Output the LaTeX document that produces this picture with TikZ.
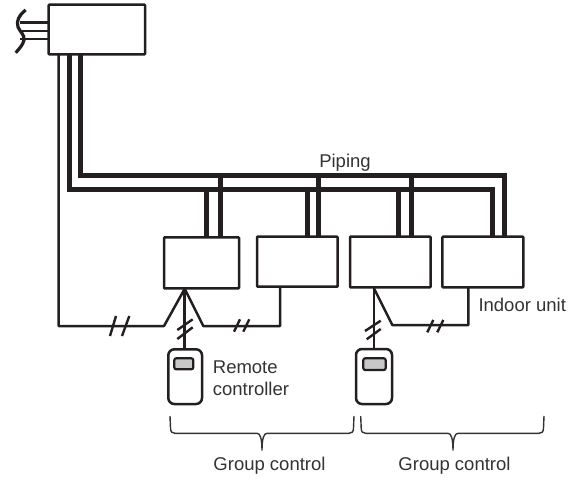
\documentclass[tikz,border=0pt]{standalone}
\usepackage{fontspec}
\setmainfont{Liberation Sans}
\definecolor{ink}{HTML}{231F20}
\definecolor{txt}{HTML}{333333}
\definecolor{win}{HTML}{C8C8C8}
\tikzset{
  unitbox/.style={draw=ink,line width=2.5pt,inner sep=0pt,outer sep=0pt,rounded corners=0.8pt,anchor=north west,fill=white},
  remotebox/.style={draw=ink,line width=2.5pt,inner sep=0pt,outer sep=0pt,rounded corners=6pt,anchor=north west,fill=white},
  windowbox/.style={draw=ink,line width=2.2pt,fill=win,inner sep=0pt,outer sep=0pt,rounded corners=2pt,anchor=north west},
  pipeline/.style={draw=ink,line width=5.3pt,line join=miter},
  wire/.style={draw=ink,line width=2.5pt,line join=round},
  tick/.style={draw=ink,line width=2.4pt},
  bracket/.style={draw=txt,line width=1.4pt},
  lab/.style={text=txt,inner sep=0pt,font=\fontsize{18.5}{22}\selectfont}
}
\begin{document}
\begin{tikzpicture}[x=1pt,y=-1pt]
\useasboundingbox (0,0) rectangle (579,480);
% nodes
\node[unitbox,minimum width=96.5pt,minimum height=49.6pt] (out) at (48.6,4.7) {};
\node[unitbox,minimum width=75pt,minimum height=51pt] (b1) at (164,237.3) {};
\node[unitbox,minimum width=80.7pt,minimum height=50pt] (b2) at (257,236.7) {};
\node[unitbox,minimum width=80.7pt,minimum height=50.6pt] (b3) at (350,236.7) {};
\node[unitbox,minimum width=81pt,minimum height=50.6pt] (b4) at (442.3,236.7) {};
\node[remotebox,minimum width=33.7pt,minimum height=54.7pt] (r1) at (168.3,349.3) {};
\node[remotebox,minimum width=36pt,minimum height=55pt] (r2) at (356,349) {};
\node[windowbox,minimum width=19pt,minimum height=11pt] (w1) at (174.3,358.3) {};
\node[windowbox,minimum width=22.4pt,minimum height=11.7pt] (w2) at (363.3,358.3) {};
% free ends
\coordinate (a1) at (184.7,288.8);
\coordinate (a3) at (374,288.3);
% supply stubs and break curve
\foreach \yy in {22.7,31,39}{\draw[wire] (out.west |- 0,\yy) -- (20,\yy);}
\draw[ink,line width=3.2pt] (25.7,10) .. controls (19,15) and (16,21) .. (18,27) .. controls (20,32) and (25,35) .. (24,40) .. controls (23,45) and (19,49) .. (15.7,52.7);
% pipes
\draw[pipeline] (80.3,0 |- out.south) -- (80.3,175.7) -- (504.3,175.7) -- (504.3,0 |- b4.north);
\draw[pipeline] (69.3,0 |- out.south) -- (69.3,189.5) -- (492.3,189.5) -- (492.3,0 |- b4.north);
\foreach \xx/\tt/\nn in {206.3/189.5/b1,220.7/175.7/b1,307.3/189.5/b2,318.3/175.7/b2,398.3/189.5/b3,411.3/175.7/b3}{
  \draw[pipeline] (\xx,\tt) -- (\xx,0 |- \nn.north);
}
% control wiring
\draw[wire] (58.7,0 |- out.south) -- (58.7,326) -- (164,326) -- (a1);
\draw[wire] (a1) -- (203.3,326) -- (280,326) -- (280,0 |- b2.south);
\draw[wire] (a1) -- (a1 |- r1.north);
\draw[wire] (a3) -- (a3 |- r2.north);
\draw[wire] (a3) -- (392.3,325) -- (468.3,325) -- (468.3,0 |- b4.south);
% ticks
\draw[tick] (116,316) -- (110,336);
\draw[tick] (129.3,316) -- (122,336);
\draw[tick] (240,319.3) -- (234,331.7);
\draw[tick] (249.3,319.3) -- (243.3,331.7);
\draw[tick] (192.7,319.3) -- (177.3,330);
\draw[tick] (192.7,327.3) -- (177.3,339);
\draw[tick] (380.7,320.7) -- (365,331);
\draw[tick] (380.7,329) -- (366.7,339.3);
\draw[tick] (433.3,320) -- (427.3,332.3);
\draw[tick] (443.3,320) -- (437.3,332.3);
% brackets
\draw[bracket] (170,416) -- (170.5,428) .. controls (170.7,432) and (172,433.3) .. (175,433.3) -- (257,433.3) .. controls (260,433.3) and (262,438) .. (262,450.7) .. controls (262,438) and (264,433.3) .. (267,433.3) -- (349,433.3) .. controls (352,433.3) and (353.3,432) .. (353.5,428) -- (354,416);
\draw[bracket] (360.7,416) -- (361.2,428) .. controls (361.4,432) and (362.7,433.3) .. (365.7,433.3) -- (448,433.3) .. controls (451,433.3) and (453,438) .. (453,450.7) .. controls (453,438) and (455,433.3) .. (458,433.3) -- (539,433.3) .. controls (542,433.3) and (543.3,432) .. (543.5,428) -- (544,416);
% labels
\node[lab,anchor=base] (piping) at (345,167) {Piping};
\node[lab,anchor=base west] (iu) at (478.3,311) {Indoor unit};
\node[lab,anchor=base west] (rc1) at (212.7,373.3) {Remote};
\node[lab,anchor=base west] (rc2) at (212.7,395.7) {controller};
\node[lab,anchor=base] (g1) at (269.5,470.7) {Group control};
\node[lab,anchor=base] (g2) at (454.5,470.7) {Group control};
\end{tikzpicture}
\end{document}
